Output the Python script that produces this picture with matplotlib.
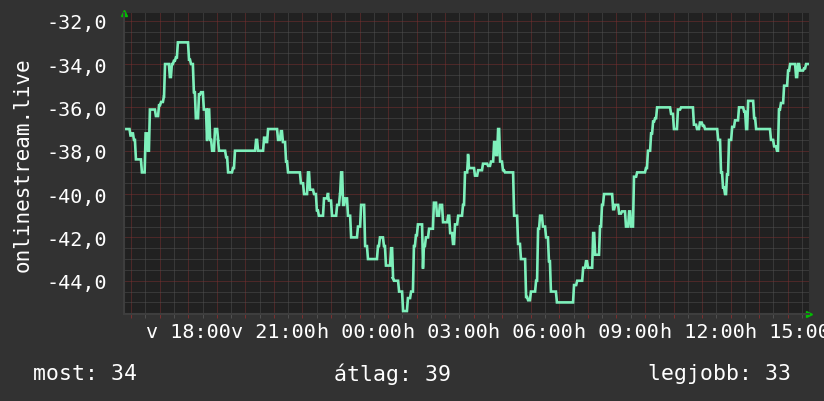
"""
Signal level graph of onlinestream.live over the last day (rrdtool look).
"""

import numpy as np
import matplotlib
matplotlib.use("Agg")
import matplotlib.pyplot as plt
from matplotlib.ticker import FixedLocator, FuncFormatter, MultipleLocator

# hours since midnight of the first day (sunday), value starts at that time
times_h = [
    15.75, 15.94, 15.99, 16.06, 16.13, 16.34, 16.47, 16.55, 16.62, 16.83,
    16.94, 17.01, 17.11, 17.15, 17.32, 17.39, 17.46, 17.53, 17.60, 17.99,
    18.06, 18.16, 18.23, 18.34, 18.41, 18.51, 18.62, 18.66, 18.73, 18.80,
    18.90, 19.01, 19.04, 19.29, 19.36, 19.53, 19.60, 20.34, 20.41, 20.62,
    20.69, 20.76, 21.11, 21.21, 21.28, 21.39, 21.46, 21.91, 22.02, 22.16,
    22.23, 22.37, 22.47, 22.54, 22.72, 22.86, 22.89, 23.00, 23.18, 23.28,
    23.32, 23.39, 23.46, 23.56, 23.67, 23.91, 24.02, 24.16, 24.26, 24.61,
    24.68, 24.82, 24.89, 25.07, 25.14, 25.17, 25.35, 25.49, 25.66, 25.77,
    25.87, 25.94, 26.01, 26.19, 26.22, 26.29, 26.40, 26.57, 26.68, 26.78,
    26.89, 27.07, 27.14, 27.24, 27.31, 27.42, 27.59, 27.66, 27.77, 27.80,
    28.01, 28.12, 28.29, 28.47, 28.57, 28.68, 28.75, 28.82, 28.89, 28.99,
    29.06, 29.38, 29.52, 29.62, 29.80, 29.87, 29.97, 30.15, 30.22, 30.29,
    30.39, 30.50, 30.60, 30.67, 30.88, 31.48, 31.59, 31.80, 31.90, 31.97,
    32.15, 32.22, 32.39, 32.46, 32.53, 32.85, 32.92, 33.06, 33.16, 33.30,
    33.41, 33.48, 33.58, 33.69, 34.00, 34.07, 34.18, 34.25, 34.32, 34.39,
    34.88, 34.98, 35.12, 35.23, 35.68, 35.79, 35.89, 35.99, 36.07, 36.53,
    36.63, 36.70, 36.77, 36.84, 36.91, 37.02, 37.12, 37.26, 37.44, 37.51,
    37.58, 37.79, 37.86, 38.38, 38.49, 38.59, 38.66, 38.73, 38.84, 38.98,
    39.05, 39.26, 39.33, 39.40, 39.54, 39.61, 39.68,
]
values = [
    -37.0, -37.3, -37.2, -37.5, -38.4, -39.0, -37.2, -38.0, -36.1, -36.4,
    -35.9, -35.75, -35.5, -34.0, -34.6, -34.0, -33.85, -33.7, -33.0, -33.8,
    -34.0, -35.3, -36.5, -35.4, -35.3, -36.1, -37.5, -36.1, -37.5, -38.0,
    -37.0, -37.5, -38.0, -38.3, -39.0, -38.8, -38.0, -37.5, -38.0, -37.4,
    -37.6, -37.0, -37.5, -37.1, -37.6, -38.5, -39.0, -39.5, -40.0, -39.0,
    -39.8, -40.0, -40.75, -41.0, -40.2, -40.0, -40.3, -41.0, -40.5, -40.0,
    -39.0, -40.5, -40.2, -41.0, -42.0, -41.5, -40.5, -42.4, -43.0, -42.4,
    -42.0, -42.4, -43.3, -42.5, -43.9, -44.0, -44.5, -45.4, -44.8, -44.5,
    -42.4, -41.9, -41.4, -43.4, -42.4, -42.0, -41.6, -40.4, -41.0, -40.5,
    -41.3, -41.0, -41.8, -42.3, -41.4, -41.0, -40.5, -39.0, -38.2, -38.8,
    -39.15, -38.9, -38.6, -38.7, -38.5, -37.6, -38.2, -37.0, -38.5, -38.9,
    -39.0, -41.0, -42.3, -43.0, -44.75, -44.9, -44.5, -44.0, -41.6, -41.0,
    -41.5, -42.0, -43.1, -44.5, -45.0, -44.2, -44.0, -43.4, -43.1, -43.4,
    -41.8, -42.8, -41.5, -40.5, -40.0, -40.7, -40.5, -40.9, -40.8, -41.5,
    -40.8, -41.5, -39.2, -39.0, -38.8, -38.0, -37.2, -36.65, -36.5, -36.0,
    -36.3, -37.0, -36.1, -36.0, -36.8, -37.0, -36.7, -36.85, -37.0, -37.5,
    -39.0, -39.7, -40.0, -39.1, -37.5, -36.9, -36.6, -36.0, -36.2, -37.0,
    -35.7, -36.5, -37.0, -37.5, -37.8, -38.0, -36.1, -35.8, -35.0, -34.3,
    -34.0, -34.6, -34.0, -34.3, -34.2, -34.0, -34.0,
]

label_hours = [18, 21, 24, 27, 30, 33, 36, 39]
summary = {"most": 34, "átlag": 39, "legjobb": 33}
source_name = "onlinestream.live"

x_range = (15.747, 39.747)
y_range = (-45.535, -31.645)

BG = "#323232"
CANVAS = "#212121"
LINE = "#7ef0bb"
MINOR = "#505050"
MAJOR = "#7a3030"
FONT = "DejaVu Sans Mono"


def hour_label(h, pos):
    h = int(round(h))
    if h not in label_hours:
        return ""
    day = "v" if h < 24 else "h"
    return f"{day} {h % 24:02d}:00"


def ramped_steps(t, v, ramp=0.035):
    # rrdtool joins samples with short slanted segments, not hard steps
    t = np.asarray(t)
    v = np.asarray(v)
    xs, ys = [t[0]], [v[0]]
    for i in range(1, len(t)):
        xs += [t[i], t[i] + ramp]
        ys += [v[i - 1], v[i]]
    return xs, ys


def main():
    plt.rcParams["font.family"] = FONT
    fig = plt.figure(figsize=(8.24, 4.02), dpi=100, facecolor=BG)
    ax = fig.add_axes([124 / 824, 87 / 402, 685 / 824, 301 / 402])
    ax.set_facecolor(CANVAS)

    # grid: grey every 30 min / 0.5, red every hour / 2.0
    ax.xaxis.set_major_locator(FixedLocator(range(16, 40)))
    ax.xaxis.set_minor_locator(MultipleLocator(0.5))
    ax.yaxis.set_major_locator(MultipleLocator(2))
    ax.yaxis.set_minor_locator(MultipleLocator(0.5))
    ax.grid(which="minor", color=MINOR, linestyle=(0, (1, 1)), linewidth=0.72)
    ax.grid(which="major", color=MAJOR, linestyle=(0, (1, 1)), linewidth=0.72)
    ax.set_axisbelow(True)

    xs, ys = ramped_steps(times_h, values)
    ax.plot(xs, ys, color=LINE, linewidth=1.9, solid_joinstyle="miter")

    ax.set_xlim(*x_range)
    ax.set_ylim(*y_range)

    ax.xaxis.set_major_formatter(FuncFormatter(hour_label))
    ax.yaxis.set_major_formatter(
        FuncFormatter(lambda v, p: f"{v:.1f}".replace(".", ",")))

    ax.tick_params(axis="x", which="major", colors=MAJOR, length=3,
                   width=0.72, labelcolor="white", labelsize=14.5, pad=3)
    ax.tick_params(axis="x", which="minor", colors=MINOR, length=3, width=0.72)
    ax.tick_params(axis="y", which="both", length=0, labelcolor="white",
                   labelsize=14.5, pad=12)

    for side in ("top", "right"):
        ax.spines[side].set_visible(False)
    for side in ("left", "bottom"):
        ax.spines[side].set_color("#3e3e3e")
        ax.spines[side].set_linewidth(1.5)

    # little green arrows at the axis ends
    ax.plot([0], [1.0], marker="^", color="#00c000", markersize=5,
            transform=ax.transAxes, clip_on=False)
    ax.plot([1.0], [0], marker=">", color="#00c000", markersize=5,
            transform=ax.transAxes, clip_on=False)

    ax.set_ylabel(source_name, color="white", fontsize=15, labelpad=10)

    fig.text(33 / 824, 1 - 374 / 402, f"most: {summary['most']}",
             color="white", fontsize=15.5, va="center", ha="left")
    fig.text(392 / 824, 1 - 374 / 402, f"átlag: {summary['átlag']}",
             color="white", fontsize=15.5, va="center", ha="center")
    fig.text(791 / 824, 1 - 374 / 402, f"legjobb: {summary['legjobb']}",
             color="white", fontsize=15.5, va="center", ha="right")

    fig.savefig("out.png", dpi=100, facecolor=BG)
    print("Saved plot: out.png")


if __name__ == "__main__":
    main()
